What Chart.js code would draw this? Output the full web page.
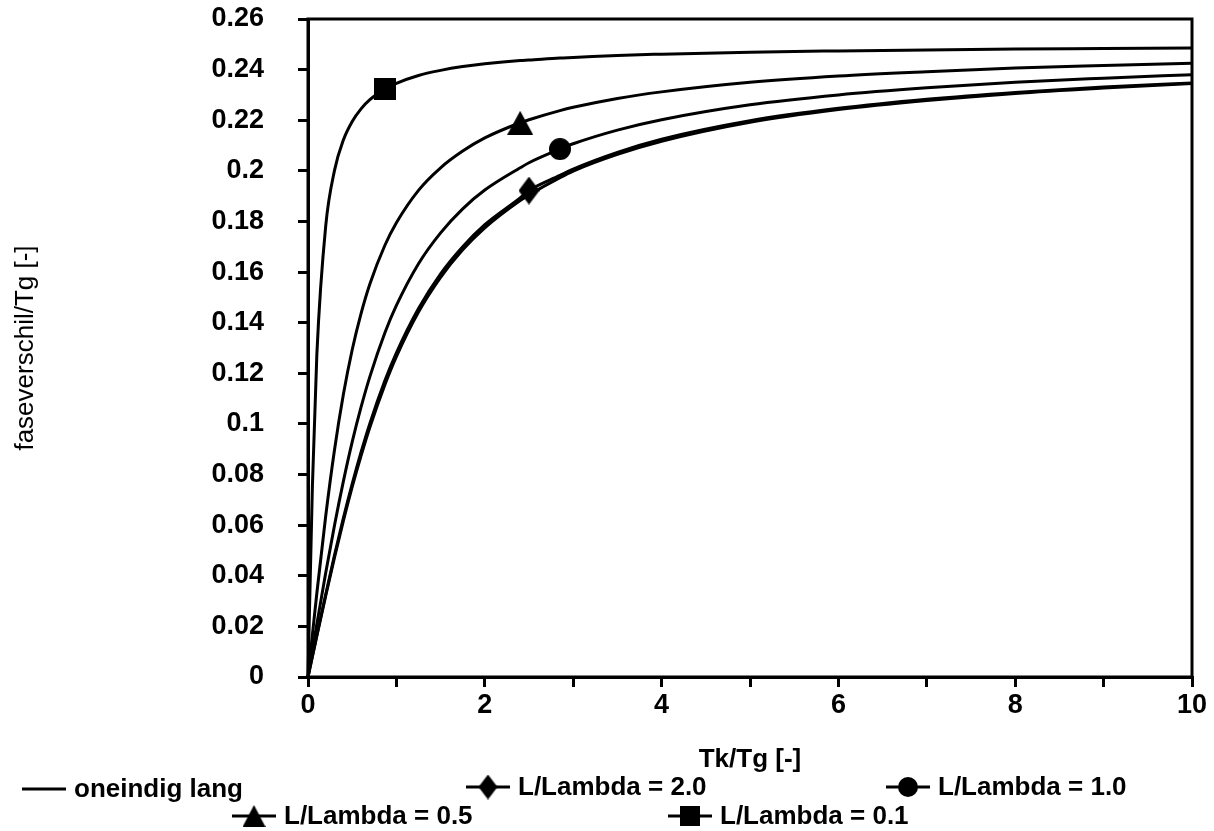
<!DOCTYPE html>
<html>
<head>
<meta charset="utf-8">
<script src="https://cdn.jsdelivr.net/npm/chart.js@4/dist/chart.umd.min.js"></script>
<style>
  html, body { margin: 0; padding: 0; background: #fff; }
  #wrap { position: relative; width: 1214px; height: 831px; }
</style>
</head>
<body>
<div id="wrap"><canvas id="c" width="1214" height="831"></canvas></div>
<script>
// ---- data ----
const xValues = [0, 0.05, 0.1, 0.2, 0.3, 0.4, 0.5, 0.6, 0.7, 0.87, 1, 1.25, 1.5, 1.75, 2, 2.4, 2.5, 2.85, 3, 3.5, 4, 5, 6, 7, 8, 9, 10];

const oneindigLang = [0, 0.0081, 0.0162, 0.0320, 0.0473, 0.0617, 0.0751, 0.0874, 0.0987, 0.1155, 0.1266, 0.1442, 0.1579, 0.1688, 0.1775, 0.1883, 0.1905, 0.1973, 0.1999, 0.2065, 0.2117, 0.2192, 0.2242, 0.2278, 0.2306, 0.2327, 0.2345];
const lambda20 = [0, 0.0083, 0.0165, 0.0326, 0.0482, 0.0628, 0.0763, 0.0888, 0.1002, 0.1171, 0.1281, 0.1456, 0.1593, 0.1700, 0.1787, 0.1893, 0.1922, 0.1982, 0.2007, 0.2073, 0.2125, 0.2198, 0.2247, 0.2283, 0.2310, 0.2331, 0.2347];
const lambda10 = [0, 0.0105, 0.0209, 0.0411, 0.0600, 0.0773, 0.0929, 0.1066, 0.1187, 0.1360, 0.1468, 0.1633, 0.1755, 0.1850, 0.1924, 0.2012, 0.2032, 0.2086, 0.2107, 0.2161, 0.2202, 0.2261, 0.2300, 0.2328, 0.2350, 0.2366, 0.2380];
const lambda05 = [0, 0.0167, 0.0331, 0.0635, 0.0898, 0.1116, 0.1293, 0.1436, 0.1553, 0.1706, 0.1795, 0.1923, 0.2012, 0.2078, 0.2130, 0.2190, 0.2202, 0.2238, 0.2251, 0.2286, 0.2312, 0.2350, 0.2375, 0.2392, 0.2406, 0.2416, 0.2425];
const lambda01 = [0, 0.0757, 0.1274, 0.1781, 0.2002, 0.2122, 0.2195, 0.2245, 0.2281, 0.2323, 0.2346, 0.2377, 0.2397, 0.2412, 0.2423, 0.2436, 0.2438, 0.2446, 0.2448, 0.2456, 0.2461, 0.2469, 0.2474, 0.2478, 0.2481, 0.2483, 0.2485];

const seriesNames = ['oneindig lang', 'L/Lambda = 2.0', 'L/Lambda = 1.0', 'L/Lambda = 0.5', 'L/Lambda = 0.1'];
const markerX = [null, 2.5, 2.85, 2.4, 0.87];

const yTicks = [0, 0.02, 0.04, 0.06, 0.08, 0.1, 0.12, 0.14, 0.16, 0.18, 0.2, 0.22, 0.24, 0.26];
const xTickLabels = [0, 2, 4, 6, 8, 10];

const xTitle = 'Tk/Tg [-]';
const yTitle = 'faseverschil/Tg [-]';

const FONT = '"Liberation Sans", Arial, Helvetica, sans-serif';

// ---- marker images ----
function makeMarker(kind, s) {
  const cv = document.createElement('canvas');
  let w, h;
  if (kind === 'square') { w = 22; h = 22; }
  else if (kind === 'triangle') { w = 26; h = 24; }
  else if (kind === 'circle') { w = 22; h = 22; }
  else { w = 21; h = 28; }
  w = Math.round(w * s); h = Math.round(h * s);
  cv.width = w; cv.height = h;
  const c = cv.getContext('2d');
  c.fillStyle = '#000';
  c.beginPath();
  if (kind === 'square') {
    c.rect(0, 0, w, h);
  } else if (kind === 'triangle') {
    c.moveTo(w / 2, 0); c.lineTo(w, h); c.lineTo(0, h); c.closePath();
  } else if (kind === 'circle') {
    c.arc(w / 2, h / 2, w / 2, 0, Math.PI * 2);
  } else {
    c.moveTo(w / 2, 0);
    c.lineTo(w, h * 0.5);
    c.lineTo(w / 2, h);
    c.lineTo(0, h * 0.5);
    c.closePath();
  }
  c.fill();
  return cv;
}
const markerKinds = [null, 'diamond', 'circle', 'triangle', 'square'];
const markersPlot = markerKinds.map(k => k ? makeMarker(k, 1) : null);
const markersLegend = markerKinds.map(k => k ? makeMarker(k, 0.9) : null);

const seriesValues = [oneindigLang, lambda20, lambda10, lambda05, lambda01];

const datasets = seriesValues.map((vals, i) => ({
  label: seriesNames[i],
  data: xValues.map((x, j) => ({ x: x, y: vals[j] })),
  borderColor: '#000',
  backgroundColor: '#000',
  borderWidth: 3,
  cubicInterpolationMode: 'monotone',
  pointStyle: markersPlot[i] || 'circle',
  pointRadius: ctx => (markerX[i] !== null && xValues[ctx.dataIndex] === markerX[i]) ? 8 : 0,
  pointHoverRadius: 0,
  clip: false
}));

// ---- plugins ----
const frame = {
  id: 'frame',
  afterDatasetsDraw(chart) {
    const { ctx, chartArea: a } = chart;
    ctx.save();
    ctx.strokeStyle = '#000';
    ctx.lineWidth = 3;
    ctx.strokeRect(a.left, a.top, a.right - a.left, a.bottom - a.top);
    ctx.restore();
  }
};

const legendItems = [
  { s: 0, lx: 22, ly: 789 },
  { s: 1, lx: 466, ly: 787 },
  { s: 2, lx: 886, ly: 787 },
  { s: 3, lx: 232, ly: 816 },
  { s: 4, lx: 668, ly: 816 }
];
const customLegend = {
  id: 'customLegend',
  afterDraw(chart) {
    const ctx = chart.ctx;
    ctx.save();
    ctx.strokeStyle = '#000';
    ctx.fillStyle = '#000';
    ctx.lineWidth = 3;
    ctx.font = 'bold 26px ' + FONT;
    ctx.textBaseline = 'middle';
    ctx.textAlign = 'left';
    legendItems.forEach(it => {
      const len = 44;
      ctx.beginPath();
      ctx.moveTo(it.lx, it.ly);
      ctx.lineTo(it.lx + len, it.ly);
      ctx.stroke();
      const m = markersLegend[it.s];
      if (m) ctx.drawImage(m, it.lx + len / 2 - m.width / 2, it.ly - m.height / 2);
      ctx.fillText(seriesNames[it.s], it.lx + len + 8, it.ly + 1);
    });
    ctx.restore();
  }
};

new Chart(document.getElementById('c'), {
  type: 'line',
  data: { datasets },
  options: {
    responsive: false,
    animation: false,
    events: [],
    layout: { padding: { top: 19, right: 22, bottom: 0, left: 0 } },
    plugins: { legend: { display: false }, tooltip: { enabled: false }, title: { display: false } },
    scales: {
      x: {
        type: 'linear',
        min: 0, max: 10,
        afterFit(s) { s.height = 154; s.paddingLeft = 0; },
        ticks: {
          stepSize: 1,
          color: '#000',
          padding: 2,
          maxRotation: 0,
          autoSkip: false,
          font: { family: FONT, size: 27, weight: 'bold' },
          callback: v => xTickLabels.includes(v) ? String(v) : ''
        },
        grid: { drawOnChartArea: false, drawTicks: true, tickLength: 10, color: '#000', lineWidth: 3 },
        border: { display: true, color: '#000', width: 3 },
        title: {
          display: true, text: xTitle, color: '#000',
          font: { family: FONT, size: 26, weight: 'bold' },
          padding: { top: 0, bottom: 56 }
        }
      },
      y: {
        type: 'linear',
        min: 0, max: 0.26,
        afterFit(s) { s.width = 308; s.paddingTop = 0; s.paddingBottom = 0; },
        afterBuildTicks(s) { s.ticks = yTicks.map(v => ({ value: v })); },
        ticks: {
          color: '#000',
          padding: 34,
          autoSkip: false,
          font: { family: FONT, size: 27, weight: 'bold' },
          callback: v => String(Math.round(v * 100) / 100)
        },
        grid: { drawOnChartArea: false, drawTicks: true, tickLength: 10, color: '#000', lineWidth: 3 },
        border: { display: true, color: '#000', width: 3 },
        title: {
          display: true, text: yTitle, color: '#000',
          font: { family: FONT, size: 26 },
          padding: { top: 10, bottom: 0 }
        }
      }
    }
  },
  plugins: [frame, customLegend]
});
</script>
</body>
</html>
